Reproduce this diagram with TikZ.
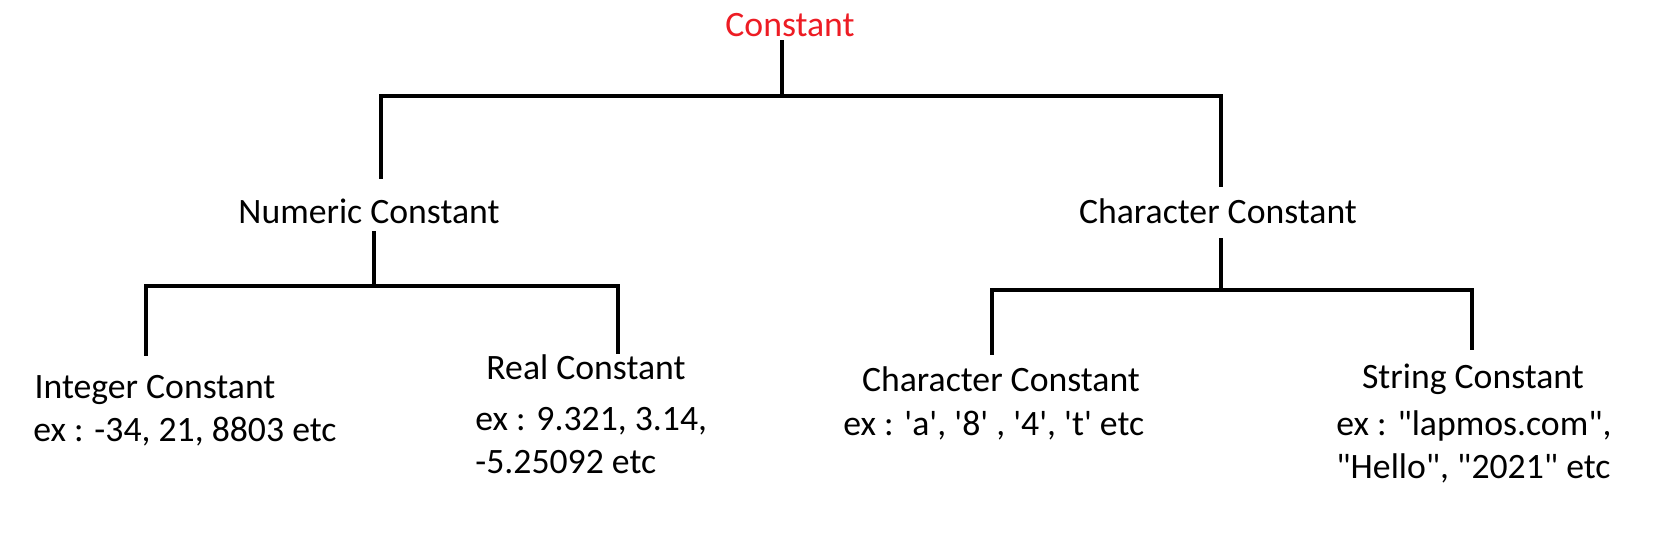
\documentclass[tikz,border=0pt]{standalone}
\usepackage{fontspec}
\setmainfont{Carlito}[Ligatures=TeXOff]
\definecolor{paintred}{RGB}{237,28,36}

\begin{document}
\begin{tikzpicture}
[x=0.5pt,y=-0.5pt,
title/.style={inner sep=0pt, font=\fontsize{17.85}{21.5}\selectfont, anchor=base},
example/.style={inner sep=0pt, font=\fontsize{17.85}{21.5}\selectfont,
align=left, anchor=base west},
line/.style={draw, line width=1.7pt, line cap=rect},
bar/.style={line width=2.2pt}]
\useasboundingbox (0,0) rectangle (1654,537);
% root and first level
\node [title, text=paintred] (const) at (790,36) {Constant};
\node [title] (num) at (369,223) {Numeric Constant};
\node [title] (chr) at (1218,223) {Character Constant};
% leaves
\node [title] (int) at (155,398) {Integer Constant};
\node [title] (real) at (586,379) {Real Constant};
\node [title] (chrc) at (1001,391) {Character Constant};
\node [title] (str) at (1473,388) {String Constant};
% examples under the leaves (base = last line)
\node [example] (intex) at (33,441) {ex : -34, 21, 8803 etc};
\node [example] (realex) at (475,473) {ex : 9.321, 3.14,\\-5.25092 etc};
\node [example] (chrcex) at (843,435) {ex : 'a', '8' , '4', 't' etc};
\node [example] (strex) at (1336,478) {ex : "lapmos.com",\\"Hello", "2021" etc};
% where the bars meet the stems
\coordinate (topbar) at (782,96);
\coordinate (topL) at (381,96);
\coordinate (topR) at (1221,96);
\coordinate (numbar) at (374,286);
\coordinate (numL) at (146,286);
\coordinate (numR) at (618,286);
\coordinate (chrbar) at (1221,290);
\coordinate (chrL) at (992,290);
\coordinate (chrR) at (1472,290);
\begin{scope}[every path/.style=line]
\path [shorten <=2.5pt] (const.south -| topbar) -- (topbar);
\path [bar] (topL) -- (topR);
\path [shorten >=10.5pt] (topL) -- (topL |- num.north);
\path [shorten >=6.5pt] (topR) -- (topR |- chr.north);
\path [shorten <=4.5pt] (num.south -| numbar) -- (numbar);
\path (numL) -- (numR);
\path [shorten >=10pt] (numL) -- (numL |- int.north);
\path [shorten >=1pt] (numR) -- (numR |- real.north);
\path [shorten <=8pt] (chr.south -| chrbar) -- (chrbar);
\path (chrL) -- (chrR);
\path [shorten >=6.5pt] (chrL) -- (chrL |- chrc.north);
\path [shorten >=7.5pt] (chrR) -- (chrR |- str.north);
\end{scope}
\end{tikzpicture}
\end{document}
